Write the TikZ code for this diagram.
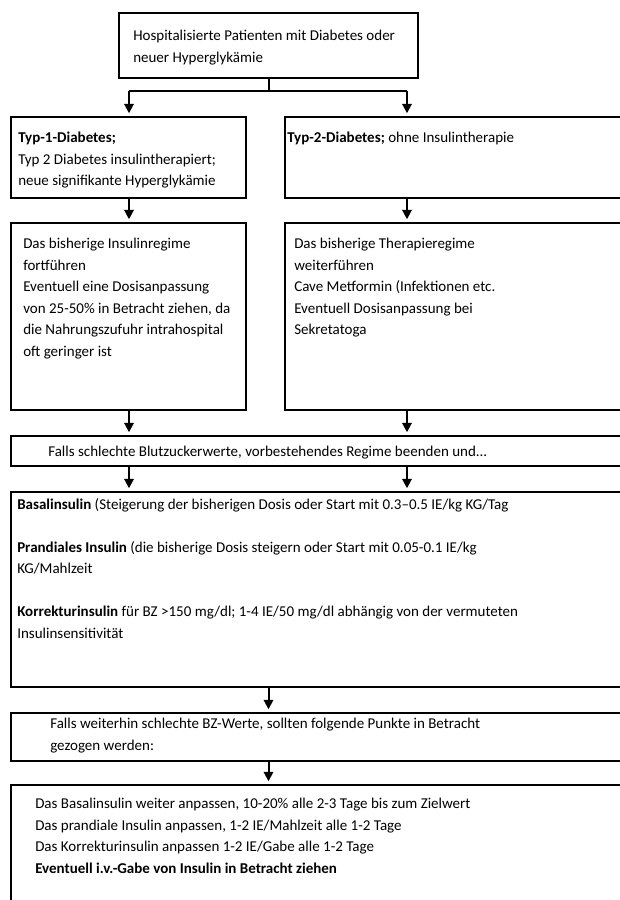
\documentclass[tikz,border=0pt]{standalone}
\usepackage{fontspec}
\setmainfont{Carlito}
\usetikzlibrary{arrows.meta, fit}

\begin{document}
\begin{tikzpicture}[
    x=0.75pt, y=-0.75pt,
    box/.style={draw, line width=1.6pt, inner sep=0pt},
    txt/.style={anchor=north west, inner sep=0pt, align=left, font=\fontsize{11.25}{16.1}\selectfont},
    line/.style={line width=1.5pt},
    arrow/.style={-{Triangle[length=7pt, width=7pt]}, line width=1.5pt, shorten >=2pt}
]
    \path[use as bounding box, clip] (0,0) rectangle (620,900);

    % Start
    \node[box, fit={(119,13) (418,78)}] (hosp) {};
    \node[txt] (hospt) at (133,30) {Hospitalisierte Patienten mit Diabetes oder\\neuer Hyperglykämie};

    % Diabetes type
    \node[box, fit={(11,117) (246,198)}] (typ1) {};
    \node[txt] (typ1t) at (18,132) {\textbf{Typ-1-Diabetes;}\\Typ 2 Diabetes insulintherapiert;\\neue signifikante Hyperglykämie};
    \node[box, fit={(285,117) (640,198)}] (typ2) {};
    \node[txt] (typ2t) at (287,132) {\textbf{Typ-2-Diabetes;} ohne Insulintherapie};

    % Previous regime
    \node[box, fit={(11,223) (246,410)}] (reg1) {};
    \node[txt] (reg1t) at (23,238) {Das bisherige Insulinregime\\fortführen\\Eventuell eine Dosisanpassung\\von 25-50\% in Betracht ziehen, da\\die Nahrungszufuhr intrahospital\\oft geringer ist};
    \node[box, fit={(285,223) (640,410)}] (reg2) {};
    \node[txt] (reg2t) at (294,238) {Das bisherige Therapieregime\\weiterführen\\Cave Metformin (Infektionen etc.\\Eventuell Dosisanpassung bei\\Sekretatoga};

    % Bad values
    \node[box, fit={(11,436) (640,466)}] (falls) {};
    \node[txt] (fallst) at (48,446) {Falls schlechte Blutzuckerwerte, vorbestehendes Regime beenden und...};

    % Insulin scheme
    \node[box, fit={(11,492) (640,687)}] (insulin) {};
    \node[txt] (insulint) at (17,498) {\textbf{Basalinsulin} (Steigerung der bisherigen Dosis oder Start mit 0.3–0.5 IE/kg KG/Tag\\[16.1pt]\textbf{Prandiales Insulin} (die bisherige Dosis steigern oder Start mit 0.05-0.1 IE/kg\\KG/Mahlzeit\\[16.1pt]\textbf{Korrekturinsulin} für BZ >150 mg/dl; 1-4 IE/50 mg/dl abhängig von der vermuteten\\Insulinsensitivität};

    % Still bad values
    \node[box, fit={(11,713) (640,761)}] (weiter) {};
    \node[txt] (weitert) at (50,718) {Falls weiterhin schlechte BZ-Werte, sollten folgende Punkte in Betracht\\gezogen werden:};

    % Adjustments
    \node[box, fit={(11,785) (640,920)}] (anpassen) {};
    \node[txt] (anpassent) at (35,798) {Das Basalinsulin weiter anpassen, 10-20\% alle 2-3 Tage bis zum Zielwert\\Das prandiale Insulin anpassen, 1-2 IE/Mahlzeit alle 1-2 Tage\\Das Korrekturinsulin anpassen 1-2 IE/Gabe alle 1-2 Tage\\\textbf{Eventuell i.v.-Gabe von Insulin in Betracht ziehen}};

    % Connectors
    \coordinate (jl) at (129,91);
    \coordinate (jr) at (407,91);
    \draw[line] (hosp.south) -- (hosp.south |- jl);
    \draw[line] (jl) -- (jr);
    \draw[arrow] (jl) -- (jl |- typ1.north);
    \draw[arrow] (jr) -- (jr |- typ2.north);
    \draw[arrow] (jl |- typ1.south) -- (jl |- reg1.north);
    \draw[arrow] (jr |- typ2.south) -- (jr |- reg2.north);
    \draw[arrow] (jl |- reg1.south) -- (jl |- falls.north);
    \draw[arrow] (jr |- reg2.south) -- (jr |- falls.north);
    \draw[arrow] (jl |- falls.south) -- (jl |- insulin.north);
    \draw[arrow] (jr |- falls.south) -- (jr |- insulin.north);
    \draw[arrow] (hosp.south |- insulin.south) -- (hosp.south |- weiter.north);
    \draw[arrow] (hosp.south |- weiter.south) -- (hosp.south |- anpassen.north);
\end{tikzpicture}
\end{document}
